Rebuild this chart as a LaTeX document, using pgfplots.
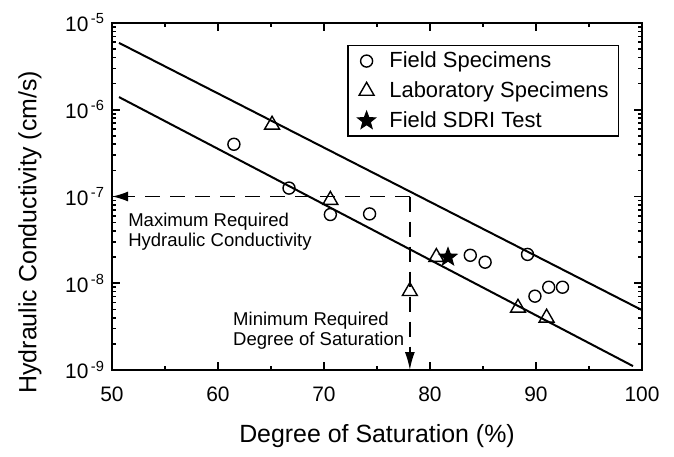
\documentclass[border=0pt]{standalone}
\usepackage{pgfplots}
\pgfplotsset{compat=1.18}
\usetikzlibrary{arrows.meta}
\usepackage{fontspec}
\setmainfont{Liberation Sans}

% filled five-pointed star mark
\pgfdeclareplotmark{fstar}{%
  \pgfpathmoveto{\pgfpointpolar{90}{\pgfplotmarksize}}%
  \pgfpathlineto{\pgfpointpolar{126}{0.42\pgfplotmarksize}}%
  \pgfpathlineto{\pgfpointpolar{162}{\pgfplotmarksize}}%
  \pgfpathlineto{\pgfpointpolar{198}{0.42\pgfplotmarksize}}%
  \pgfpathlineto{\pgfpointpolar{234}{\pgfplotmarksize}}%
  \pgfpathlineto{\pgfpointpolar{270}{0.42\pgfplotmarksize}}%
  \pgfpathlineto{\pgfpointpolar{306}{\pgfplotmarksize}}%
  \pgfpathlineto{\pgfpointpolar{342}{0.42\pgfplotmarksize}}%
  \pgfpathlineto{\pgfpointpolar{18}{\pgfplotmarksize}}%
  \pgfpathlineto{\pgfpointpolar{54}{0.42\pgfplotmarksize}}%
  \pgfpathclose
  \pgfusepathqfillstroke}

\begin{document}
\begin{tikzpicture}
\useasboundingbox (-56bp,-43.5bp) rectangle (281bp,185bp);
\begin{axis}[
  at={(0,0)}, anchor=south west,
  scale only axis, width=265bp, height=173.5bp,
  xmin=50, xmax=100,
  ymode=log, ymin=1e-9, ymax=1e-5,
  xtick={50,60,...,100}, minor xtick={55,65,...,95},
  ytick={1e-9,1e-8,1e-7,1e-6,1e-5},
  minor ytick={2e-9,3e-9,4e-9,5e-9,6e-9,7e-9,8e-9,9e-9,
               2e-8,3e-8,4e-8,5e-8,6e-8,7e-8,8e-8,9e-8,
               2e-7,3e-7,4e-7,5e-7,6e-7,7e-7,8e-7,9e-7,
               2e-6,3e-6,4e-6,5e-6,6e-6,7e-6,8e-6,9e-6},
  yticklabels={10\textsuperscript{\,-9},10\textsuperscript{\,-8},10\textsuperscript{\,-7},10\textsuperscript{\,-6},10\textsuperscript{\,-5}},
  xticklabels={50,60,70,80,90,100},
  tick align=inside,
  major tick length=4bp, minor tick length=2.2bp,
  axis line style={line width=1bp},
  every tick/.style={black, line width=0.8bp},
  tick label style={font=\fontsize{10.5}{12}\selectfont},
  xticklabel style={yshift=-5bp},
  xlabel={Degree of Saturation (\%)},
  ylabel={Hydraulic Conductivity (cm/s)},
  label style={font=\fontsize{12.5}{14}\selectfont},
  xlabel style={at={(axis description cs:0.5,-0.19)}, anchor=center},
  ylabel style={at={(axis description cs:-0.155,0.397)}, anchor=center},
  legend image code/.code={%
    \path (0bp,0bp) (15bp,0bp);
    \draw[#1] plot coordinates {(6bp,0bp)};},
  legend style={at={(rel axis cs:0.4434,0.937)}, anchor=north west,
    draw=black, line width=0.8bp, font=\fontsize{11}{13}\selectfont,
    row sep=1.5bp, inner xsep=3bp, inner ysep=1bp},
  legend cell align=left,
]
% regression bounds
\addplot[black, line width=1bp, forget plot] coordinates {(50.66,5.9e-6) (100,4.9e-9)};
\addplot[black, line width=1bp, forget plot] coordinates {(50.66,1.4e-6) (99.15,1.11e-9)};

% required limits
\addplot[black, line width=0.8bp, dash pattern=on 7.5bp off 5bp,
  -{Latex[length=8bp,width=5bp]}, forget plot] coordinates {(78.1,1e-7) (50,1e-7)};
\addplot[black, line width=0.8bp, dash pattern=on 7.5bp off 5bp,
  -{Latex[length=9bp,width=5bp]}, forget plot] coordinates {(78.1,1e-7) (78.1,1e-9)};

\addplot[only marks, mark=o, mark size=3bp, mark options={line width=0.7bp, black}] coordinates {
  (61.5,4.0e-7) (66.7,1.25e-7) (70.6,6.2e-8) (74.3,6.3e-8)
  (83.8,2.1e-8) (85.2,1.75e-8) (89.2,2.15e-8) (89.9,7.1e-9)
  (91.2,9.0e-9) (92.5,9.0e-9)};
\addlegendentry{Field Specimens}

\addplot[only marks, mark=triangle, mark size=4.3bp, mark options={line width=0.7bp, black}] coordinates {
  (65.1,6.7e-7) (70.6,9.1e-8) (78.1,8.1e-9) (80.6,2.0e-8)
  (88.3,5.2e-9) (91.0,4.0e-9)};
\addlegendentry{Laboratory Specimens}

\addplot[only marks, mark=fstar, mark size=4.7bp, mark options={line width=0.5bp, black, fill=black}] coordinates {
  (81.7,2.0e-8)};
\addlegendentry{Field SDRI Test}

\node[anchor=north west, align=left, inner sep=0pt, font=\fontsize{9.3}{10}\selectfont]
  at (axis cs:51.5,6.45e-8) {Maximum Required\\Hydraulic Conductivity};
\node[anchor=north west, align=left, inner sep=0pt, font=\fontsize{9.3}{10}\selectfont]
  at (axis cs:61.4,4.67e-9) {Minimum Required\\Degree of Saturation};
\end{axis}
\end{tikzpicture}
\end{document}
